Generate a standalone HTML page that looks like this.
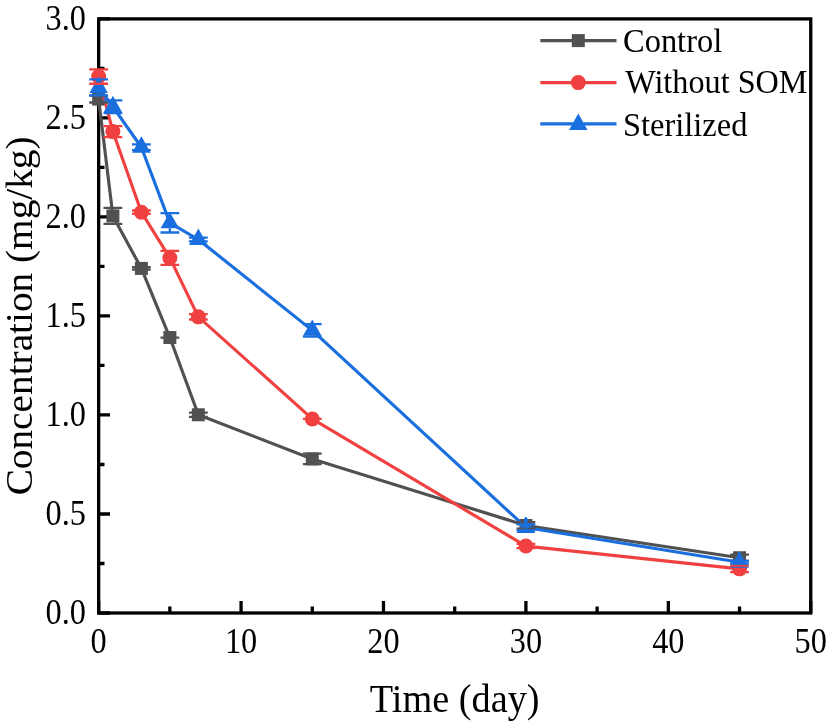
<!DOCTYPE html>
<html><head><meta charset="utf-8"><style>
html,body{margin:0;padding:0;background:#fff;}
svg{display:block;font-family:"Liberation Serif",serif;}
text{-webkit-font-smoothing:antialiased;}
.t{will-change:transform;}
</style></head><body>
<svg class="t" width="827" height="724" viewBox="0 0 827 724">
<path d="M98.65 613.00H110M98.65 513.98H110M98.65 414.97H110M98.65 315.95H110M98.65 216.93H110M98.65 117.92H110M98.65 18.90H110M98.65 563.49H104.5M98.65 464.48H104.5M98.65 365.46H104.5M98.65 266.44H104.5M98.65 167.42H104.5M98.65 68.41H104.5M98.65 613.00V601M241.07 613.00V601M383.49 613.00V601M525.91 613.00V601M668.33 613.00V601M810.75 613.00V601M169.86 613.00V606.5M312.28 613.00V606.5M454.70 613.00V606.5M597.12 613.00V606.5M739.54 613.00V606.5" stroke="#000" stroke-width="3.3" fill="none"/>
<rect x="98.65" y="18.90" width="712.10" height="594.10" fill="none" stroke="#000" stroke-width="3.3"/>
<g font-size="35.5"><text transform="translate(86.0 623.60) scale(0.91 1)" text-anchor="end">0.0</text><text transform="translate(86.0 524.58) scale(0.91 1)" text-anchor="end">0.5</text><text transform="translate(86.0 425.57) scale(0.91 1)" text-anchor="end">1.0</text><text transform="translate(86.0 326.55) scale(0.91 1)" text-anchor="end">1.5</text><text transform="translate(86.0 227.53) scale(0.91 1)" text-anchor="end">2.0</text><text transform="translate(86.0 128.52) scale(0.91 1)" text-anchor="end">2.5</text><text transform="translate(86.0 29.50) scale(0.91 1)" text-anchor="end">3.0</text><text transform="translate(98.65 652.9) scale(0.91 1)" text-anchor="middle">0</text><text transform="translate(241.07 652.9) scale(0.91 1)" text-anchor="middle">10</text><text transform="translate(383.49 652.9) scale(0.91 1)" text-anchor="middle">20</text><text transform="translate(525.91 652.9) scale(0.91 1)" text-anchor="middle">30</text><text transform="translate(668.33 652.9) scale(0.91 1)" text-anchor="middle">40</text><text transform="translate(810.75 652.9) scale(0.91 1)" text-anchor="middle">50</text></g>
<text transform="translate(454.7 712) scale(0.955 1)" font-size="40.1" text-anchor="middle">Time (day)</text>
<text transform="translate(31.8 315.9) rotate(-90) scale(1 0.94)" x="0" y="0" font-size="39.3" text-anchor="middle">Concentration (mg/kg)</text>
<polyline points="98.65,99.10 112.89,215.94 141.38,268.42 169.86,337.54 198.34,414.77 312.28,458.93 525.91,525.47 739.54,557.75" fill="none" stroke="#515151" stroke-width="3.15" stroke-linejoin="round"/><rect x="92.15" y="92.60" width="13.0" height="13.0" fill="#515151"/><rect x="106.39" y="209.44" width="13.0" height="13.0" fill="#515151"/><rect x="134.88" y="261.92" width="13.0" height="13.0" fill="#515151"/><rect x="163.36" y="331.04" width="13.0" height="13.0" fill="#515151"/><rect x="191.84" y="408.27" width="13.0" height="13.0" fill="#515151"/><rect x="305.78" y="452.43" width="13.0" height="13.0" fill="#515151"/><rect x="519.41" y="518.97" width="13.0" height="13.0" fill="#515151"/><rect x="733.04" y="551.25" width="13.0" height="13.0" fill="#515151"/>
<polyline points="98.65,76.53 112.89,131.58 141.38,212.18 169.86,257.93 198.34,316.84 312.28,418.93 525.91,546.06 739.54,568.84" fill="none" stroke="#F14040" stroke-width="3.15" stroke-linejoin="round"/><circle cx="98.65" cy="76.53" r="7.5" fill="#F14040"/><circle cx="112.89" cy="131.58" r="7.5" fill="#F14040"/><circle cx="141.38" cy="212.18" r="7.5" fill="#F14040"/><circle cx="169.86" cy="257.93" r="7.5" fill="#F14040"/><circle cx="198.34" cy="316.84" r="7.5" fill="#F14040"/><circle cx="312.28" cy="418.93" r="7.5" fill="#F14040"/><circle cx="525.91" cy="546.06" r="7.5" fill="#F14040"/><circle cx="739.54" cy="568.84" r="7.5" fill="#F14040"/>
<polyline points="98.65,87.42 112.89,106.79 141.38,147.23 169.86,222.87 198.34,239.51 312.28,330.39 525.91,527.45 739.54,562.20" fill="none" stroke="#1A6FDF" stroke-width="3.15" stroke-linejoin="round"/><path d="M98.65 76.49L107.90 92.89L89.40 92.89Z" fill="#1A6FDF"/><path d="M112.89 95.85L122.14 112.25L103.64 112.25Z" fill="#1A6FDF"/><path d="M141.38 136.29L150.63 152.69L132.13 152.69Z" fill="#1A6FDF"/><path d="M169.86 211.94L179.11 228.34L160.61 228.34Z" fill="#1A6FDF"/><path d="M198.34 228.58L207.59 244.98L189.09 244.98Z" fill="#1A6FDF"/><path d="M312.28 319.45L321.53 335.85L303.03 335.85Z" fill="#1A6FDF"/><path d="M525.91 516.52L535.16 532.92L516.66 532.92Z" fill="#1A6FDF"/><path d="M739.54 551.27L748.79 567.67L730.29 567.67Z" fill="#1A6FDF"/>
<path d="M89.25 95.70H108.05M89.25 102.50H108.05" stroke="#515151" stroke-width="2.3" fill="none"/><path d="M103.49 207.94H122.29M103.49 223.94H122.29M112.89 207.94V209.44M112.89 222.44V223.94" stroke="#515151" stroke-width="2.3" fill="none"/><path d="M131.98 267.12H150.78M131.98 269.72H150.78" stroke="#515151" stroke-width="2.3" fill="none"/><path d="M160.46 337.54H179.26M160.46 337.54H179.26" stroke="#515151" stroke-width="2.3" fill="none"/><path d="M188.94 412.57H207.74M188.94 416.97H207.74" stroke="#515151" stroke-width="2.3" fill="none"/><path d="M302.88 453.68H321.68M302.88 464.18H321.68" stroke="#515151" stroke-width="2.3" fill="none"/><path d="M516.51 522.27H535.31M516.51 528.67H535.31" stroke="#515151" stroke-width="2.3" fill="none"/><path d="M730.14 554.55H748.94M730.14 560.95H748.94" stroke="#515151" stroke-width="2.3" fill="none"/><path d="M525.91 518.92V527.45" stroke="#1A6FDF" stroke-width="3.2" stroke-linecap="round"/><path d="M739.54 553.67V562.20" stroke="#1A6FDF" stroke-width="3.2" stroke-linecap="round"/><path d="M89.25 69.33H108.05M89.25 83.73H108.05" stroke="#F14040" stroke-width="2.3" fill="none"/><path d="M103.49 126.08H122.29M103.49 137.08H122.29" stroke="#F14040" stroke-width="2.3" fill="none"/><path d="M131.98 210.48H150.78M131.98 213.88H150.78" stroke="#F14040" stroke-width="2.3" fill="none"/><path d="M160.46 250.93H179.26M160.46 264.93H179.26" stroke="#F14040" stroke-width="2.3" fill="none"/><path d="M188.94 314.19H207.74M188.94 319.49H207.74" stroke="#F14040" stroke-width="2.3" fill="none"/><path d="M302.88 418.93H321.68M302.88 418.93H321.68" stroke="#F14040" stroke-width="2.3" fill="none"/><path d="M516.51 543.96H535.31M516.51 548.16H535.31" stroke="#F14040" stroke-width="2.3" fill="none"/><path d="M730.14 565.64H748.94M730.14 572.04H748.94" stroke="#F14040" stroke-width="2.3" fill="none"/><path d="M89.25 79.42H108.05M89.25 95.42H108.05M98.65 92.89V95.42" stroke="#1A6FDF" stroke-width="2.3" fill="none"/><path d="M103.49 100.39H122.29M103.49 113.19H122.29M112.89 112.25V113.19" stroke="#1A6FDF" stroke-width="2.3" fill="none"/><path d="M131.98 144.33H150.78M131.98 150.13H150.78" stroke="#1A6FDF" stroke-width="2.3" fill="none"/><path d="M160.46 213.22H179.26M160.46 232.52H179.26M169.86 228.34V232.52" stroke="#1A6FDF" stroke-width="2.3" fill="none"/><path d="M188.94 237.71H207.74M188.94 241.31H207.74" stroke="#1A6FDF" stroke-width="2.3" fill="none"/><path d="M302.88 324.19H321.68M302.88 336.59H321.68M312.28 335.85V336.59" stroke="#1A6FDF" stroke-width="2.3" fill="none"/><path d="M516.51 524.45H535.31M516.51 530.45H535.31" stroke="#1A6FDF" stroke-width="2.3" fill="none"/><path d="M730.14 560.90H748.94M730.14 563.50H748.94" stroke="#1A6FDF" stroke-width="2.3" fill="none"/>
<path d="M540.3 40.6H616.5" stroke="#515151" stroke-width="3.15"/>
<rect x="571.80" y="34.10" width="13.0" height="13.0" fill="#515151"/>
<text transform="translate(623 52.2) scale(0.955 1)" font-size="34">Control</text>
<path d="M540.3 82.6H616.5" stroke="#F14040" stroke-width="3.15"/>
<circle cx="578.30" cy="82.60" r="7.5" fill="#F14040"/>
<text transform="translate(625.3 93.2) scale(0.948 1)" font-size="34">Without SOM</text>
<path d="M540.3 123.9H616.5" stroke="#1A6FDF" stroke-width="3.15"/>
<path d="M578.30 113.57L587.55 129.97L569.05 129.97Z" fill="#1A6FDF"/>
<text transform="translate(623 135.6) scale(0.955 1)" font-size="34">Sterilized</text>
</svg>
</body></html>
